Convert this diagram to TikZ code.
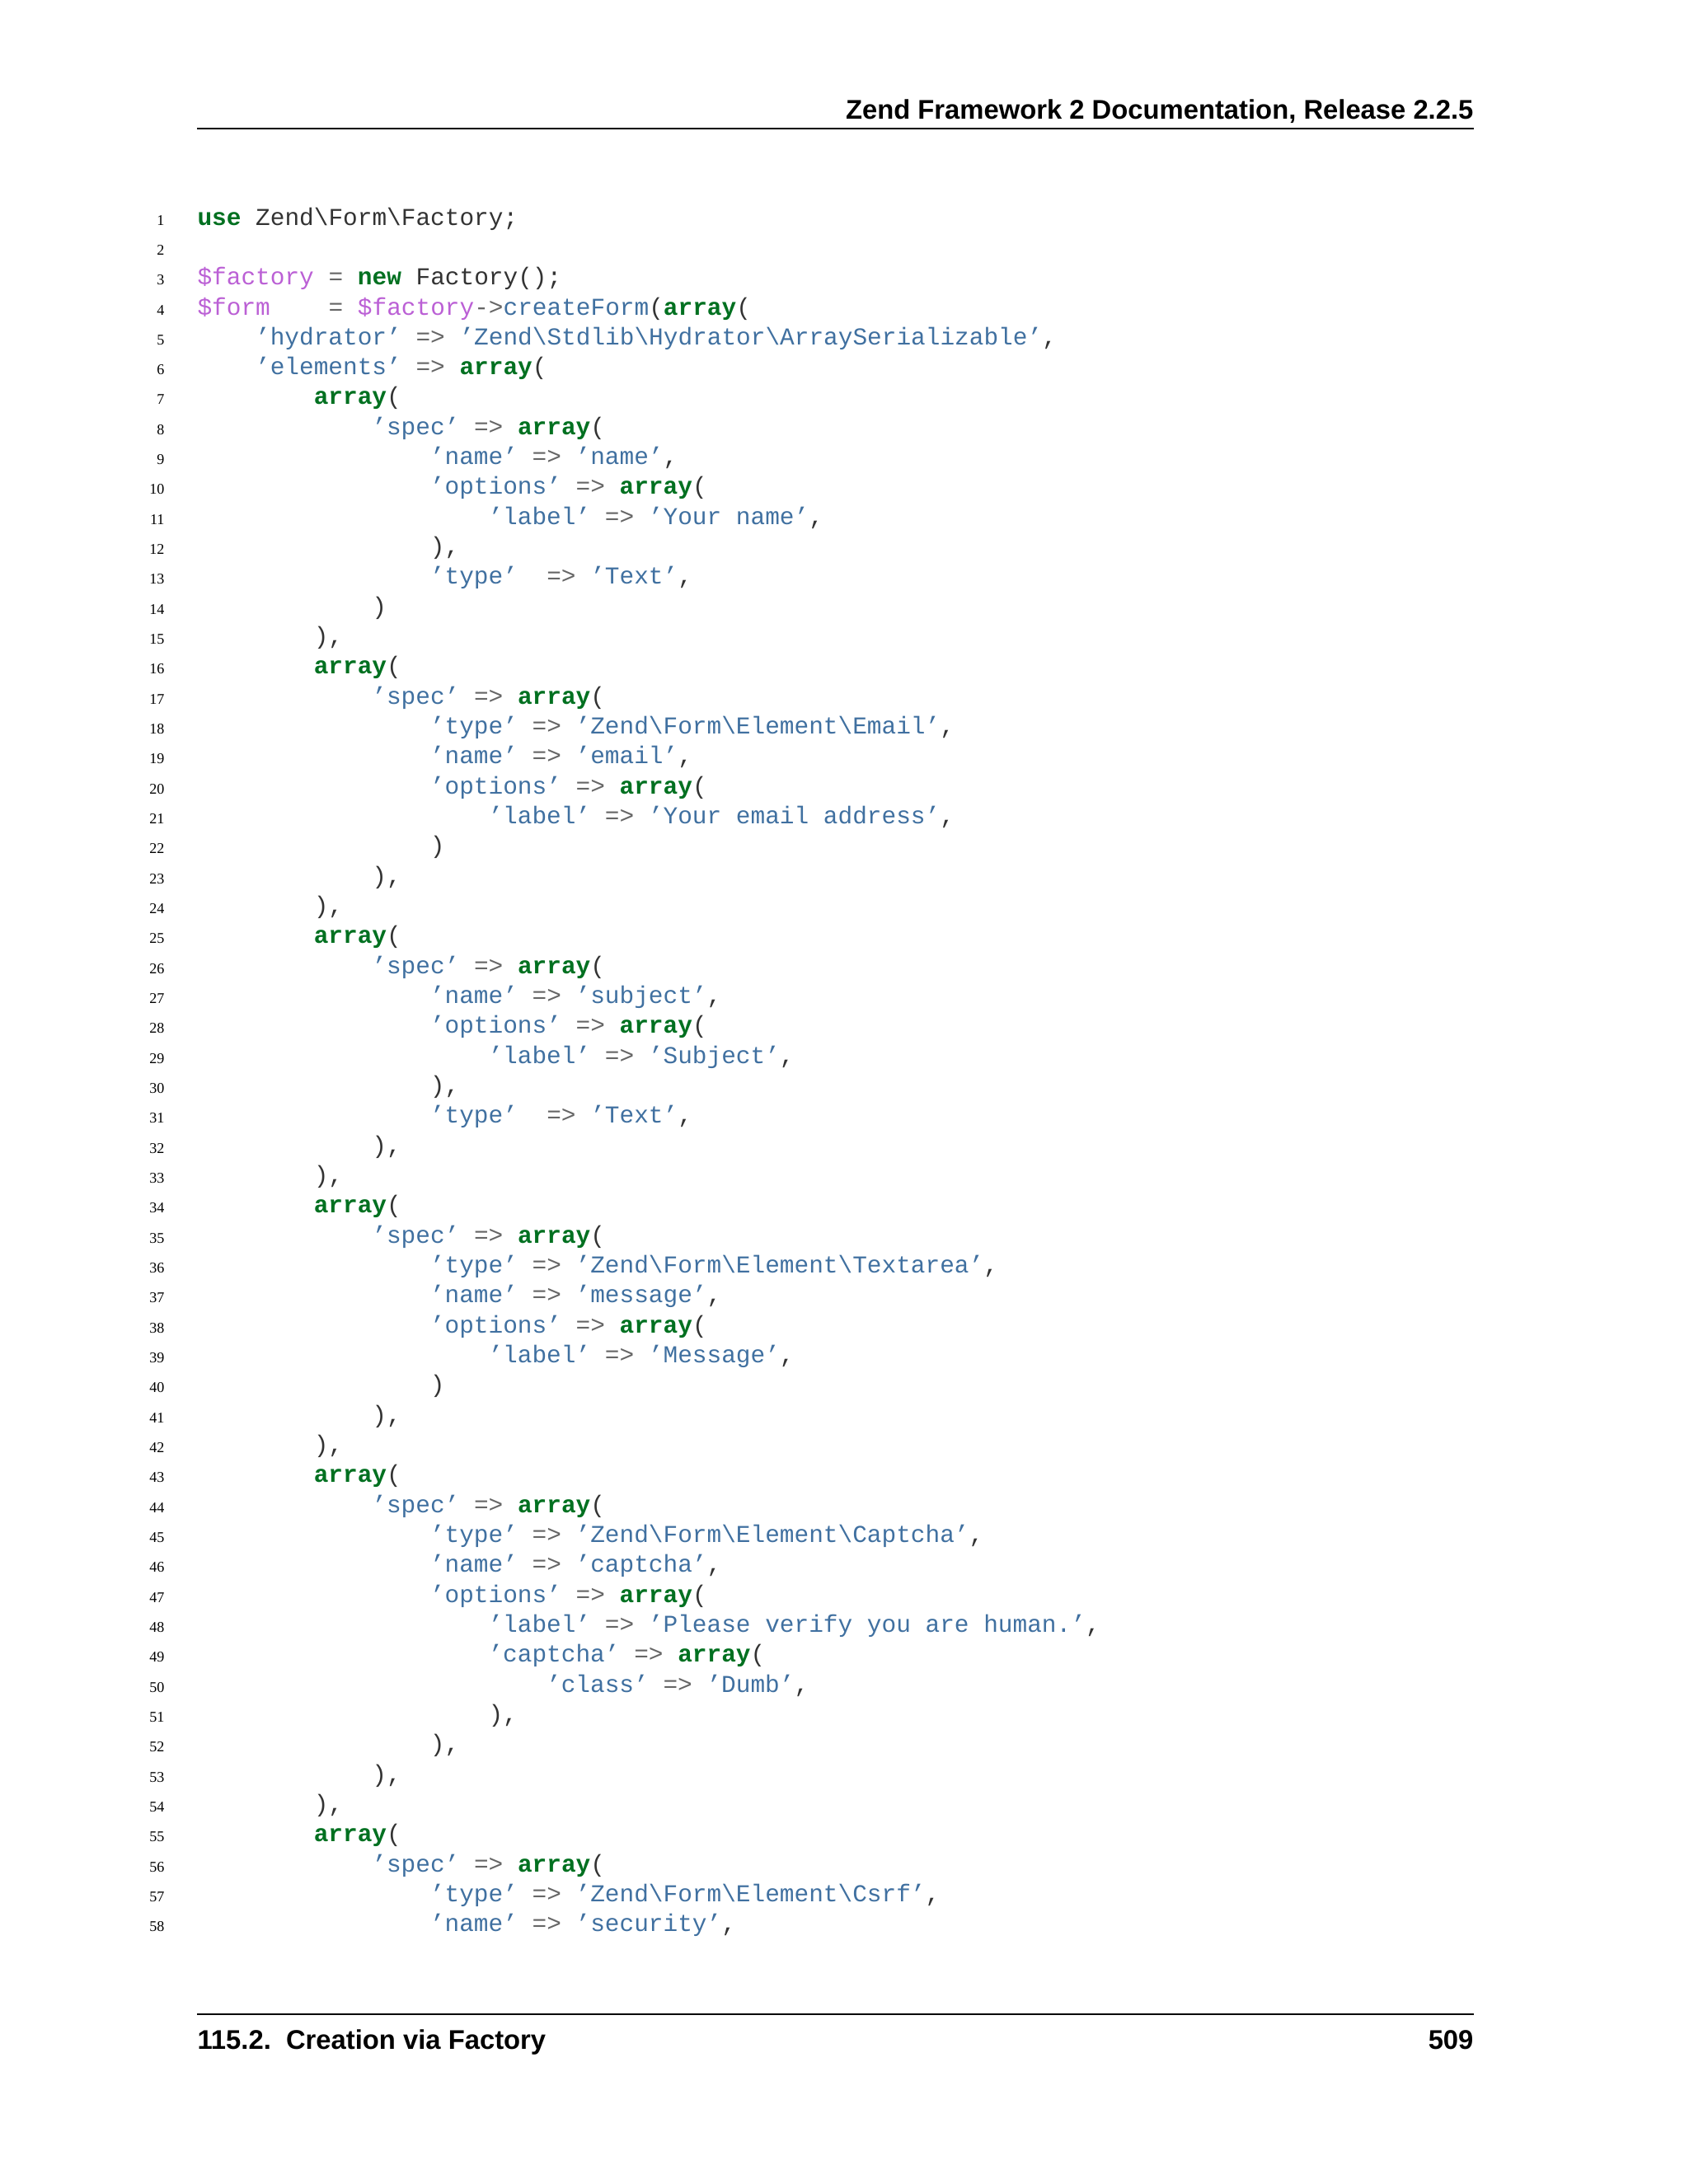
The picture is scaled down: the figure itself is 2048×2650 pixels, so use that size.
\documentclass[tikz,border=0pt]{standalone}
\usepackage{fontspec}
\setmainfont{Liberation Serif}
\newfontfamily\codefont{Liberation Mono}
\newfontfamily\headfont{Liberation Sans}
\definecolor{strc}{HTML}{4070A0}
\definecolor{kwc}{HTML}{007020}
\definecolor{varc}{HTML}{BB60D5}
\definecolor{opc}{HTML}{666666}
\definecolor{txc}{HTML}{333333}
\newcommand\K[1]{\textcolor{kwc}{\bfseries #1}}
\newcommand\Sq[1]{\textcolor{strc}{’#1’}}
\newcommand\V[1]{\textcolor{varc}{#1}}
\newcommand\Op[1]{\textcolor{opc}{#1}}
\newcommand\bs{\textbackslash}
\newcommand\ar{\Op{=>}}
\tikzset{num/.style={anchor=base east,inner sep=0pt,font=\fontsize{6.5}{7}\selectfont},
code/.style={anchor=base west,inner sep=0pt,text=txc,font=\codefont\fontsize{10.6}{12}\selectfont},
head/.style={inner sep=0pt,font=\headfont\bfseries\fontsize{11.8}{13}\selectfont}}
\newcommand\cl[3]{\node[num] (n#1) at (200,{273+(#1-1)*36.33}) {#1};
\node[code] (c#1) at ({239+#2*17.65},{273+(#1-1)*36.33}) {#3};}
\begin{document}
\begin{tikzpicture}[x=0.36pt,y=-0.36pt]
\useasboundingbox (0,0) rectangle (2048,2650);
\node[head,anchor=base east] (title) at (1788,144) {Zend Framework 2 Documentation, Release 2.2.5};
\coordinate (hl) at (239,156); \coordinate (hr) at (1788,156);
\draw[line width=0.6pt] (hl) -- (hr);
\coordinate (fl) at (239,2444); \coordinate (fr) at (1788,2444);
\draw[line width=0.6pt] (fl) -- (fr);
\node[head,anchor=base west] (sec) at (239,2486) {115.2.\ \ Creation via Factory};
\node[head,anchor=base east] (page) at (1788,2486) {509};
\cl{1}{0}{\K{use} Zend\bs Form\bs Factory;}
\node[num] (n2) at (200,{273+36.33}) {2};
\cl{3}{0}{\V{\$factory} \Op{=} \K{new} Factory();}
\cl{4}{0}{\V{\$form}\ \ \ \ \Op{=} \V{\$factory}\Op{->}\textcolor{strc}{createForm}(\K{array}(}
\cl{5}{4}{\Sq{hydrator} \ar{} \Sq{Zend\bs Stdlib\bs Hydrator\bs ArraySerializable},}
\cl{6}{4}{\Sq{elements} \ar{} \K{array}(}
\cl{7}{8}{\K{array}(}
\cl{8}{12}{\Sq{spec} \ar{} \K{array}(}
\cl{9}{16}{\Sq{name} \ar{} \Sq{name},}
\cl{10}{16}{\Sq{options} \ar{} \K{array}(}
\cl{11}{20}{\Sq{label} \ar{} \Sq{Your name},}
\cl{12}{16}{),}
\cl{13}{16}{\Sq{type}\ \ \ar{} \Sq{Text},}
\cl{14}{12}{)}
\cl{15}{8}{),}
\cl{16}{8}{\K{array}(}
\cl{17}{12}{\Sq{spec} \ar{} \K{array}(}
\cl{18}{16}{\Sq{type} \ar{} \Sq{Zend\bs Form\bs Element\bs Email},}
\cl{19}{16}{\Sq{name} \ar{} \Sq{email},}
\cl{20}{16}{\Sq{options} \ar{} \K{array}(}
\cl{21}{20}{\Sq{label} \ar{} \Sq{Your email address},}
\cl{22}{16}{)}
\cl{23}{12}{),}
\cl{24}{8}{),}
\cl{25}{8}{\K{array}(}
\cl{26}{12}{\Sq{spec} \ar{} \K{array}(}
\cl{27}{16}{\Sq{name} \ar{} \Sq{subject},}
\cl{28}{16}{\Sq{options} \ar{} \K{array}(}
\cl{29}{20}{\Sq{label} \ar{} \Sq{Subject},}
\cl{30}{16}{),}
\cl{31}{16}{\Sq{type}\ \ \ar{} \Sq{Text},}
\cl{32}{12}{),}
\cl{33}{8}{),}
\cl{34}{8}{\K{array}(}
\cl{35}{12}{\Sq{spec} \ar{} \K{array}(}
\cl{36}{16}{\Sq{type} \ar{} \Sq{Zend\bs Form\bs Element\bs Textarea},}
\cl{37}{16}{\Sq{name} \ar{} \Sq{message},}
\cl{38}{16}{\Sq{options} \ar{} \K{array}(}
\cl{39}{20}{\Sq{label} \ar{} \Sq{Message},}
\cl{40}{16}{)}
\cl{41}{12}{),}
\cl{42}{8}{),}
\cl{43}{8}{\K{array}(}
\cl{44}{12}{\Sq{spec} \ar{} \K{array}(}
\cl{45}{16}{\Sq{type} \ar{} \Sq{Zend\bs Form\bs Element\bs Captcha},}
\cl{46}{16}{\Sq{name} \ar{} \Sq{captcha},}
\cl{47}{16}{\Sq{options} \ar{} \K{array}(}
\cl{48}{20}{\Sq{label} \ar{} \Sq{Please verify you are human.},}
\cl{49}{20}{\Sq{captcha} \ar{} \K{array}(}
\cl{50}{24}{\Sq{class} \ar{} \Sq{Dumb},}
\cl{51}{20}{),}
\cl{52}{16}{),}
\cl{53}{12}{),}
\cl{54}{8}{),}
\cl{55}{8}{\K{array}(}
\cl{56}{12}{\Sq{spec} \ar{} \K{array}(}
\cl{57}{16}{\Sq{type} \ar{} \Sq{Zend\bs Form\bs Element\bs Csrf},}
\cl{58}{16}{\Sq{name} \ar{} \Sq{security},}
\end{tikzpicture}
\end{document}
